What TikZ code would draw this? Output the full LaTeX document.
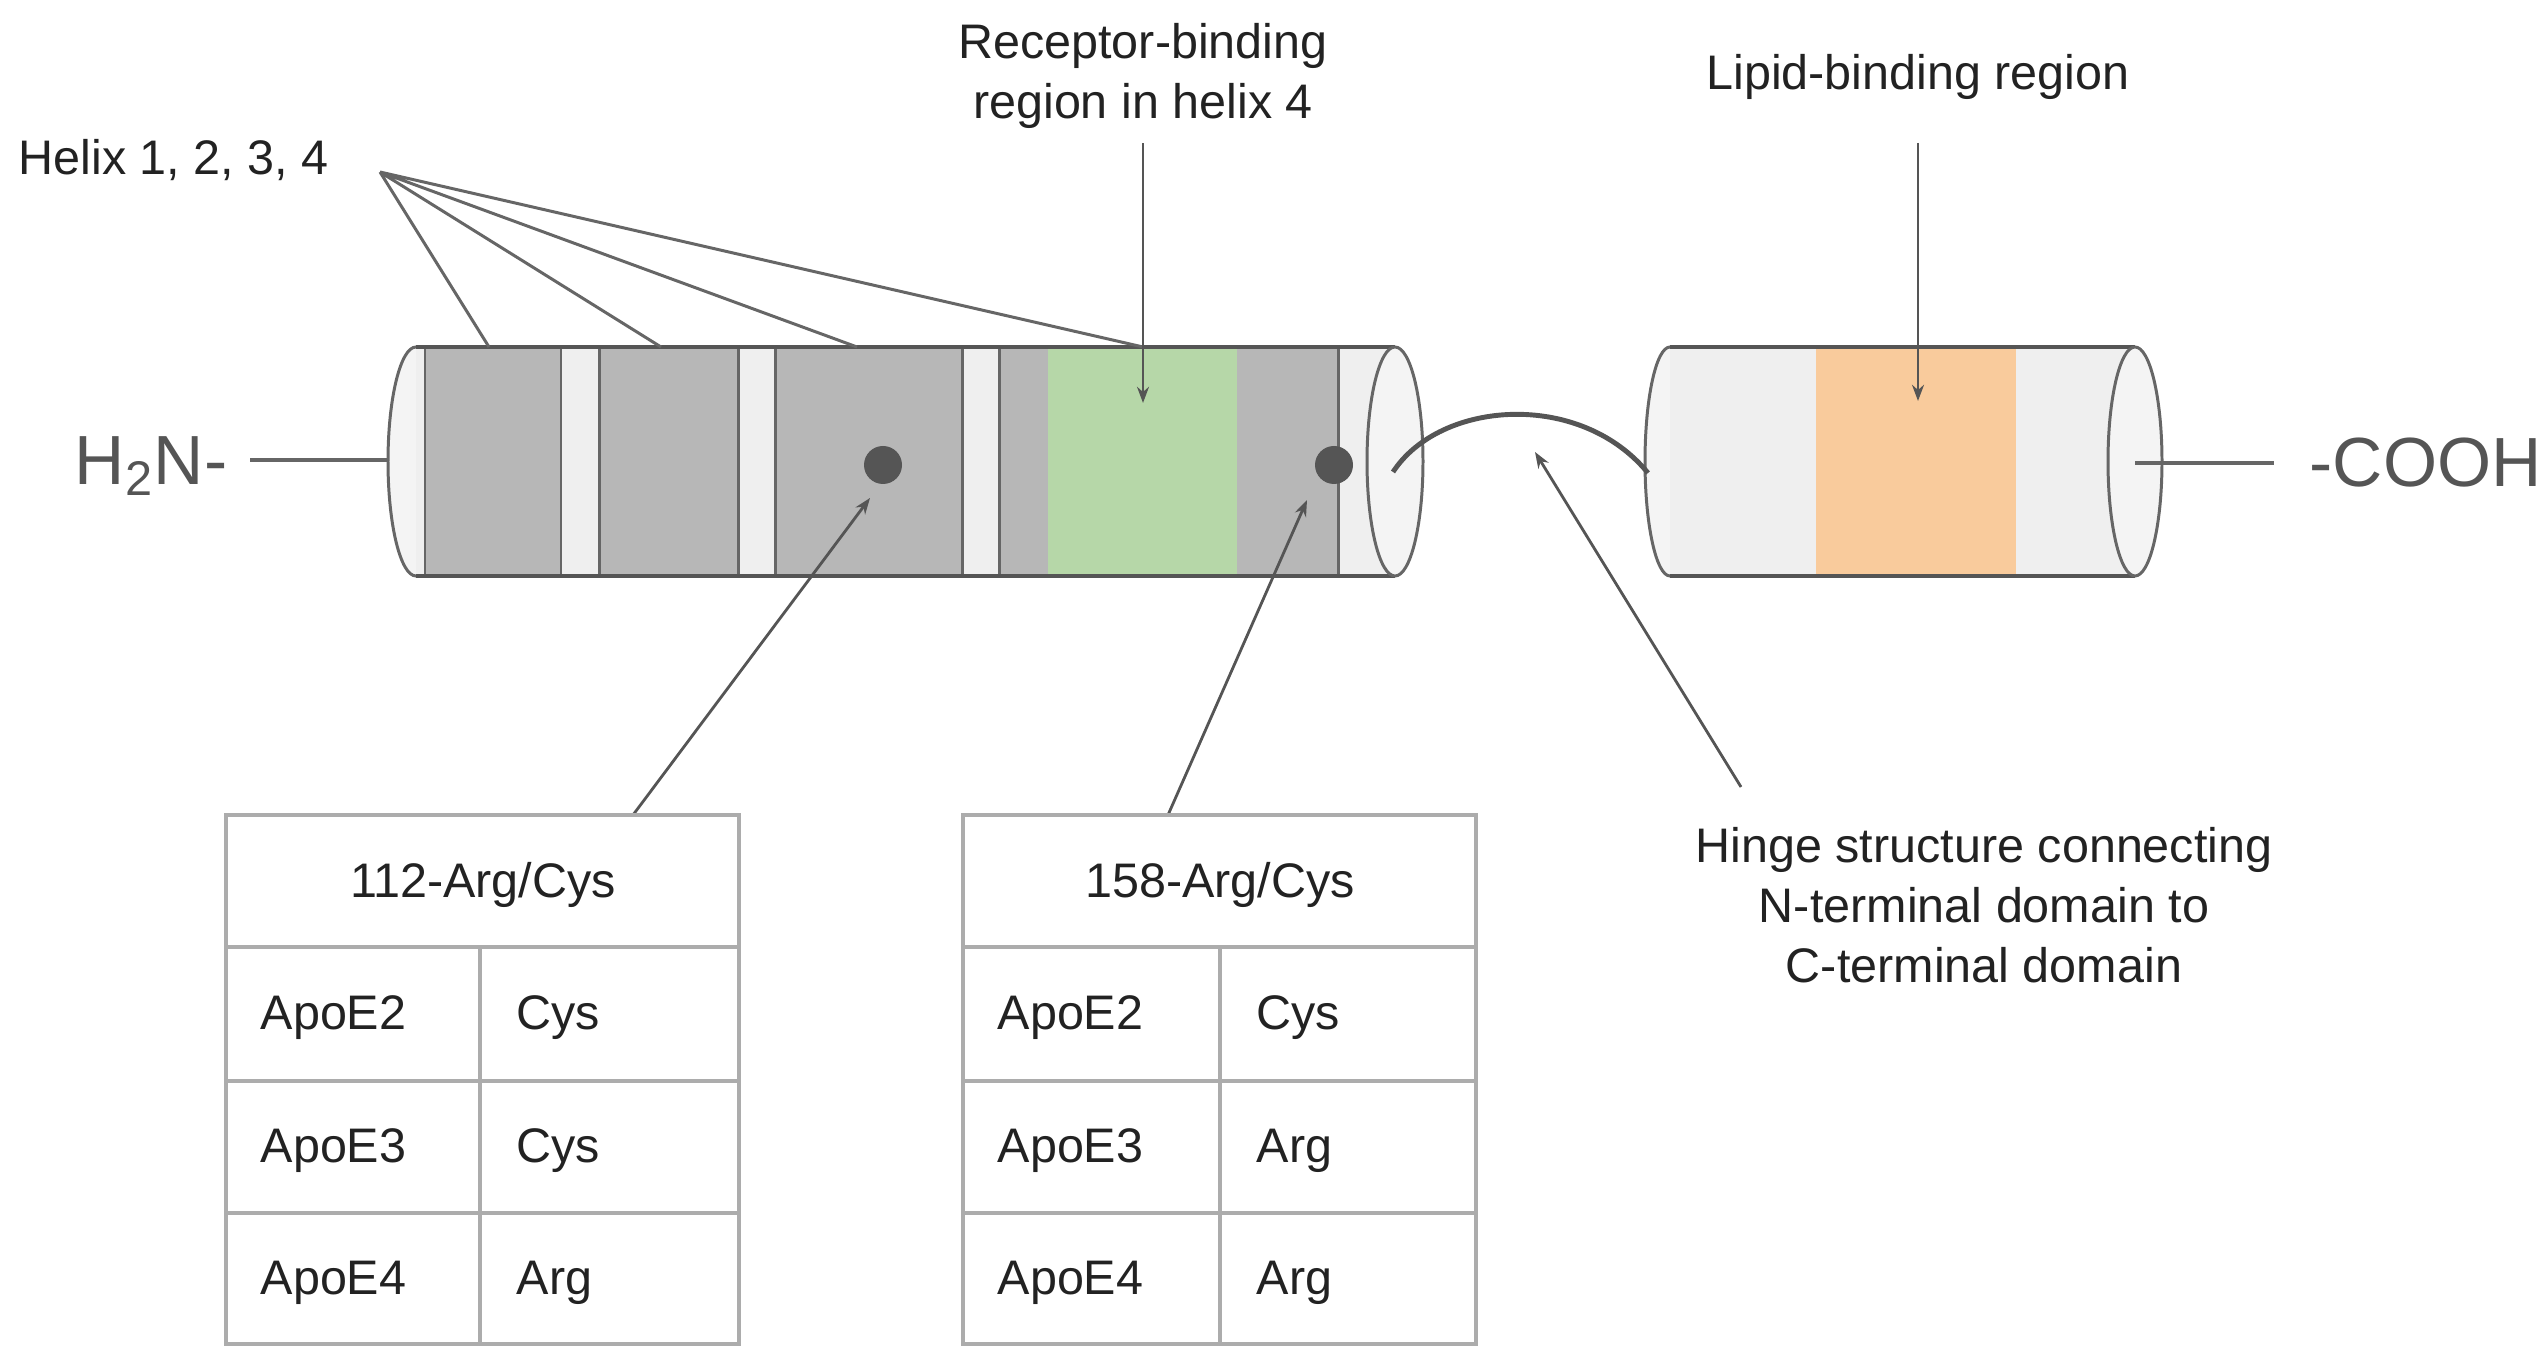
\documentclass[tikz,border=0pt]{standalone}
\usepackage{fontspec}
\setmainfont{Liberation Sans}
\usetikzlibrary{arrows.meta}
\definecolor{helixgray}{RGB}{183,183,183}
\definecolor{bandwhite}{RGB}{239,239,239}
\definecolor{capwhite}{RGB}{244,244,244}
\definecolor{recgreen}{RGB}{182,215,168}
\definecolor{lipidorange}{RGB}{249,203,156}
\definecolor{edgegray}{RGB}{102,102,102}
\definecolor{darkedge}{RGB}{85,85,85}
\definecolor{tabgray}{RGB}{172,172,172}
\definecolor{txtgray}{RGB}{34,34,34}
\definecolor{termgray}{RGB}{85,85,85}

\tikzset{
  cylline/.style={draw=edgegray, line width=0.85pt},
  rim/.style={draw=darkedge, line width=1.3pt},
  pointer/.style={draw=darkedge, line width=0.8pt, -{Stealth[length=4.6pt,width=3.4pt]}},
  fanline/.style={draw=edgegray, line width=0.85pt},
  tabline/.style={draw=tabgray, line width=1.1pt},
  dot/.style={circle, fill=darkedge, minimum size=3.8mm, inner sep=0pt},
  lbl/.style={text=txtgray, inner sep=0pt},
  term/.style={text=termgray, inner sep=0pt, font=\fontsize{19.8}{24}\selectfont},
}

\begin{document}
\begin{tikzpicture}[x=0.1mm, y=-0.1mm, font=\fontsize{13.8}{17.1}\selectfont]
\useasboundingbox (0,0) rectangle (2546,1368);

% N-terminale
\draw[cylline, fill=capwhite] (416,461.5) ellipse[x radius=28, y radius=114.5];
\fill[bandwhite] (416,347) rectangle (1395,576);
\fill[helixgray] (425,347) rectangle (561,576);
\fill[helixgray] (599,347) rectangle (738,576);
\fill[helixgray] (775,347) rectangle (962,576);
\fill[helixgray] (999,347) rectangle (1338,576);
\fill[recgreen] (1048,347) rectangle (1237,576);
\draw[cylline] (425,347) -- (425,576) (561,347) -- (561,576) (599,347) -- (599,576)
  (738,347) -- (738,576) (775,347) -- (775,576) (962,347) -- (962,576)
  (999,347) -- (999,576) (1338,347) -- (1338,576);
\draw[rim] (416,347) -- (1395,347) (416,576) -- (1395,576);
\draw[cylline, fill=capwhite] (1395,461.5) ellipse[x radius=28, y radius=114.5];

% C-terminale
\draw[cylline, fill=capwhite] (1670,461.5) ellipse[x radius=25, y radius=114.5];
\fill[bandwhite] (1670,347) rectangle (2135,576);
\fill[lipidorange] (1816,347) rectangle (2016,576);
\draw[rim] (1670,347) -- (2135,347) (1670,576) -- (2135,576);
\draw[cylline, fill=capwhite] (2135,461.5) ellipse[x radius=27, y radius=114.5];

% cerniera
\coordinate (hingeA) at (1393,472);
\coordinate (hingeB) at (1648,473);
\draw[darkedge, line width=1.4pt] (hingeA) .. controls (1440,400) and (1580,390) .. (hingeB);

% estremi
\node[term, anchor=base east] (nterm) at (228,485) {H\textsubscript{2}N-};
\coordinate (nline) at (250,460);
\coordinate (nend) at (387,460);
\draw[cylline, line width=1.1pt] (nline) -- (nend);
\node[term, anchor=base west] (cterm) at (2309,487) {-COOH};
\coordinate (cend) at (2135,463);
\coordinate (cline) at (2274,463);
\draw[cylline, line width=1.1pt] (cend) -- (cline);

% eliche
\node[lbl, anchor=base west] (helix) at (18,175) {Helix 1, 2, 3, 4};
\coordinate (fan) at (380,172);
\coordinate (h1) at (489,347);
\coordinate (h2) at (661,347);
\coordinate (h3) at (857,347);
\coordinate (h4) at (1143,347);
\draw[fanline] (fan) -- (h1) (fan) -- (h2) (fan) -- (h3) (fan) -- (h4);

% regioni di legame
\node[lbl, align=center] (recep) at (1143,76) {Receptor-binding\\region in helix 4};
\coordinate (receptip) at (1143,403);
\draw[pointer, shorten <=1.4mm] (recep) -- (receptip);
\node[lbl, anchor=base] (lipid) at (1918,90) {Lipid-binding region};
\coordinate (lipidtip) at (1918,401);
\draw[pointer, shorten <=4.2mm] (lipid) -- (lipidtip);

\node[lbl, align=center] (hinge) at (1984,905) {Hinge structure connecting\\N-terminal domain to\\C-terminal domain};
\coordinate (hingetail) at (1741,787);
\coordinate (hingetip) at (1535,452);
\draw[pointer] (hingetail) -- (hingetip);

% residui
\node[dot] (d112) at (883,465) {};
\node[dot] (d158) at (1334,465) {};
\coordinate (p112) at (870,498);
\coordinate (p158) at (1307,500);
\coordinate (t1top) at (633,815);
\coordinate (t2top) at (1168,815);
\draw[pointer] (t1top) -- (p112);
\draw[pointer] (t2top) -- (p158);

% tabella 112
\draw[tabline] (226,815) rectangle (739,1344);
\draw[tabline] (226,947) -- (739,947) (226,1081) -- (739,1081) (226,1213) -- (739,1213) (480,947) -- (480,1344);
\node[lbl, anchor=base] (t112) at (483,898) {112-Arg/Cys};
\node[lbl, anchor=base west] (a2) at (260,1030) {ApoE2};
\node[lbl, anchor=base west] (a3) at (260,1163) {ApoE3};
\node[lbl, anchor=base west] (a4) at (260,1295) {ApoE4};
\node[lbl, anchor=base west] (r2) at (516,1030) {Cys};
\node[lbl, anchor=base west] (r3) at (516,1163) {Cys};
\node[lbl, anchor=base west] (r4) at (516,1295) {Arg};

% tabella 158
\draw[tabline] (963,815) rectangle (1476,1344);
\draw[tabline] (963,947) -- (1476,947) (963,1081) -- (1476,1081) (963,1213) -- (1476,1213) (1220,947) -- (1220,1344);
\node[lbl, anchor=base] (t158) at (1220,898) {158-Arg/Cys};
\node[lbl, anchor=base west] (b2) at (997,1030) {ApoE2};
\node[lbl, anchor=base west] (b3) at (997,1163) {ApoE3};
\node[lbl, anchor=base west] (b4) at (997,1295) {ApoE4};
\node[lbl, anchor=base west] (s2) at (1256,1030) {Cys};
\node[lbl, anchor=base west] (s3) at (1256,1163) {Arg};
\node[lbl, anchor=base west] (s4) at (1256,1295) {Arg};
\end{tikzpicture}
\end{document}
